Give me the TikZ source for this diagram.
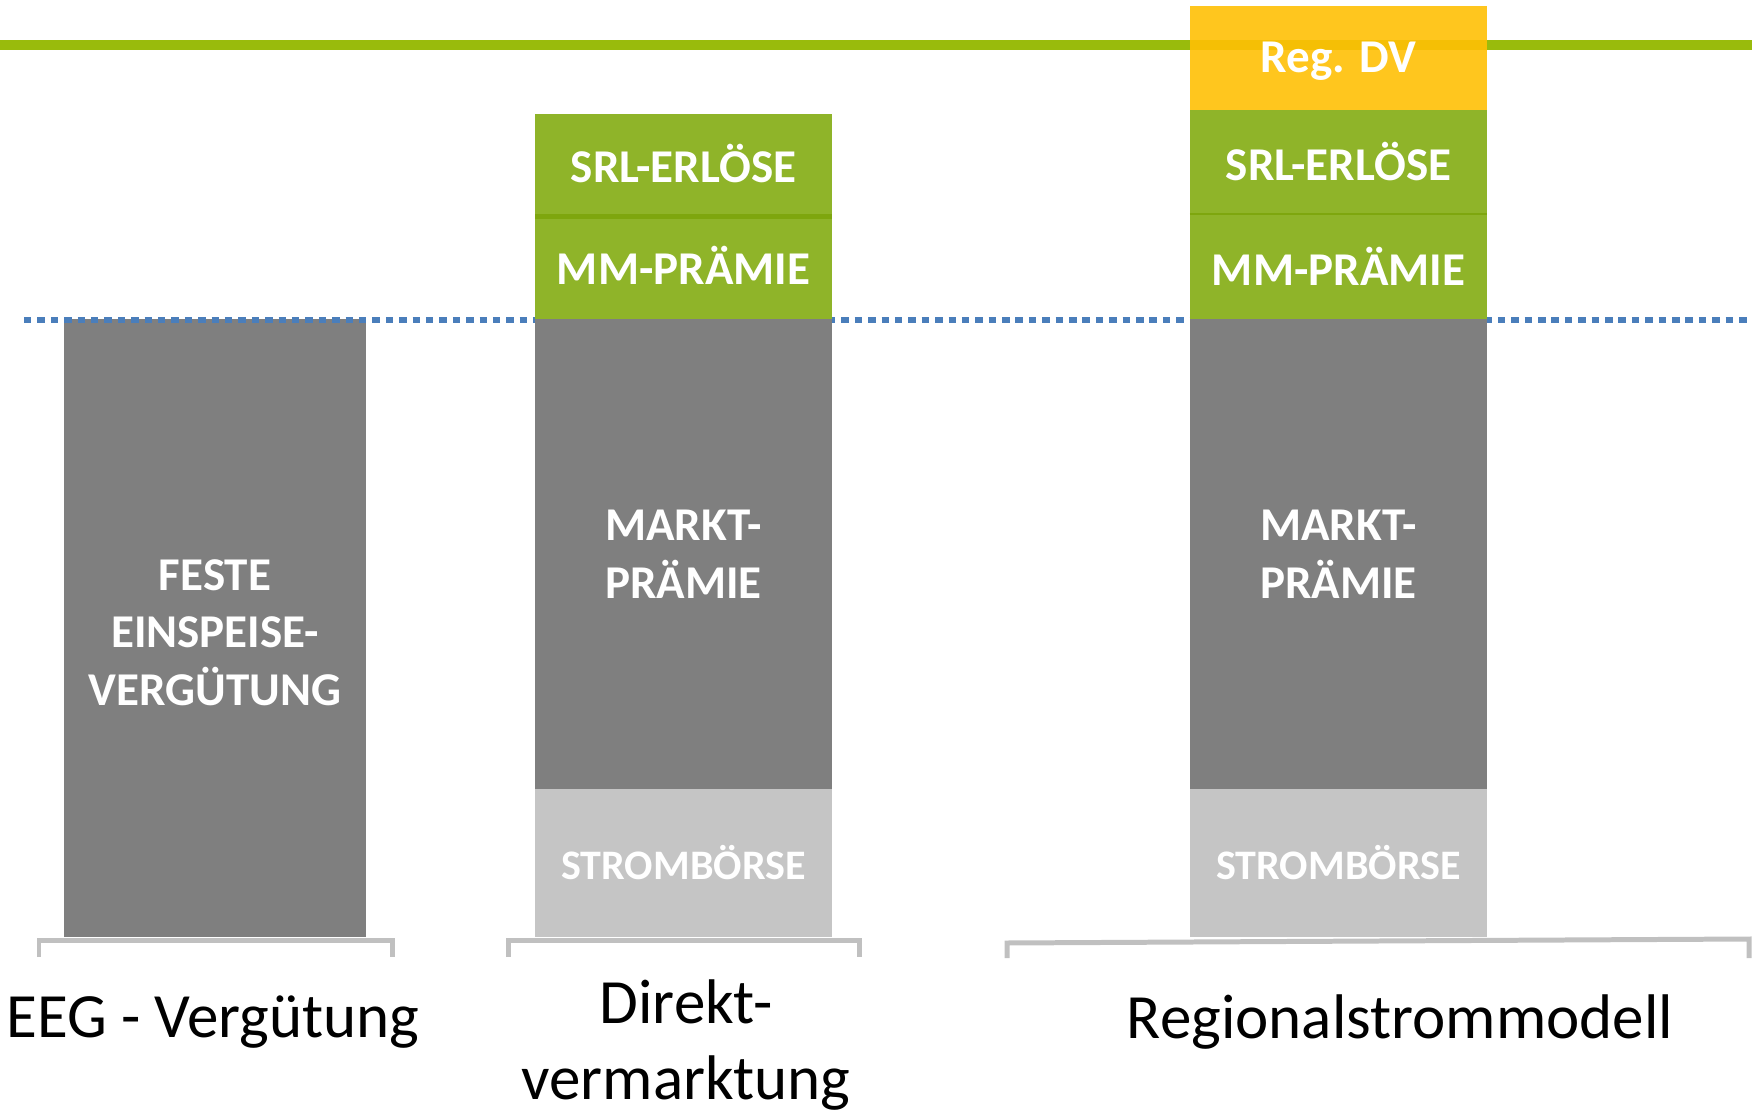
\documentclass[tikz,border=0pt]{standalone}
\usepackage{fontspec}
\setmainfont{Carlito}
\definecolor{topgreen}{RGB}{153,187,12}
\definecolor{bargreen}{RGB}{143,180,41}
\definecolor{stripegreen}{RGB}{126,166,14}
\definecolor{yellowbar}{RGB}{255,192,5}
\definecolor{darkbar}{RGB}{127,127,127}
\definecolor{lightbar}{RGB}{197,197,197}
\definecolor{bracketgray}{RGB}{192,192,192}
\definecolor{dotblue}{RGB}{74,126,187}
\begin{document}
\begin{tikzpicture}[x=0.01cm,y=-0.01cm,
  seg/.style={rectangle, inner sep=0pt, outer sep=0pt, minimum width=2.97cm,
    text=white, align=center, font=\bfseries\fontsize{13.37}{16.4}\selectfont},
  capcenter/.style={text height=8.6pt, text depth=0pt},
  segsmall/.style={seg, font=\bfseries\fontsize{11.95}{14}\selectfont},
  dotline/.style={dotblue, line width=1.85pt, dash pattern=on 2.13pt off 1.68pt},
  bracketline/.style={bracketgray, line width=1.42pt},
  lbl/.style={inner sep=0pt, anchor=base, text=black, font=\fontsize{17.92}{21.6}\selectfont}]
\useasboundingbox (0,0) rectangle (1752,1110);
% top green line
\fill[topgreen] (0,40) rectangle (1752,50);
% bar 1
\node[seg, fill=darkbar, minimum width=3.02cm, minimum height=6.18cm] (feste) at (215,628) {};
\node[seg, minimum width=0pt] (festetxt) at (215,632.5) {FESTE\\EINSPEISE-\\VERGÜTUNG};
% dotted reference line
\draw[dotline] (24,320) -- (1752,320);
% bar 2
\node[seg, fill=bargreen, minimum height=1cm] (dvsrl) at (683.5,164) {SRL-ERLÖSE};
\node[seg, capcenter, fill=bargreen, minimum height=1cm] (dvmm) at (683.5,269) {MM-PRÄMIE};
\fill[stripegreen] (535,214) rectangle (832,219);
\node[seg, fill=darkbar, minimum height=4.7cm] (dvmp) at (683.5,554) {MARKT-\\PRÄMIE};
\node[segsmall, fill=lightbar, minimum height=1.48cm] (dvsb) at (683.5,863) {STROMBÖRSE};
% bar 3
\node[seg, capcenter, fill=yellowbar, fill opacity=0.9, text opacity=1, minimum height=1.044cm] (rsdv) at (1338.5,57.8) {Reg. DV};
\node[seg, fill=bargreen, minimum height=1.04cm] (rssrl) at (1338.5,162) {SRL-ERLÖSE};
\node[seg, fill=bargreen, minimum height=1.05cm] (rsmm) at (1338.5,266.5) {MM-PRÄMIE};
\draw[stripegreen, line width=0.5pt] (rssrl.south west) -- (rssrl.south east);
\node[seg, fill=darkbar, minimum height=4.7cm] (rsmp) at (1338.5,554) {MARKT-\\PRÄMIE};
\node[segsmall, fill=lightbar, minimum height=1.48cm] (rssb) at (1338.5,863) {STROMBÖRSE};
% brackets
\draw[bracketline] (39,957) -- (39,940.5) -- (392,940.5) -- (392,957);
\draw[bracketline] (508,957) -- (508,940.5) -- (859,940.5) -- (859,957);
\draw[bracketline] (1007,958) -- (1007,943) -- (1749,939) -- (1749,958);
% labels
\node[lbl] (lbleeg) at (213,1037) {EEG - Vergütung};
\node[lbl] (lbldirekt) at (686,1023) {Direkt-};
\node[lbl] (lblverm) at (686,1099) {vermarktung};
\node[lbl] (lblreg) at (1400,1038) {Regionalstrommodell};
\end{tikzpicture}
\end{document}
